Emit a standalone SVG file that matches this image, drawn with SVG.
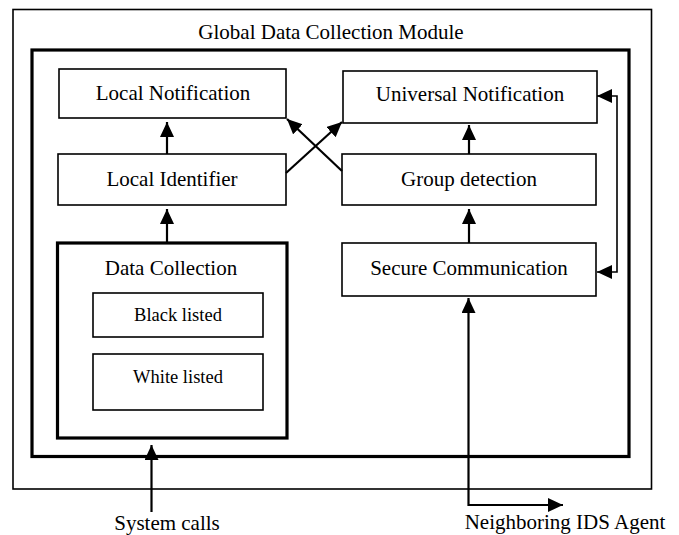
<svg xmlns="http://www.w3.org/2000/svg" width="679" height="535" viewBox="0 0 679 535">
<style>
  .box { fill: #fff; stroke: #000; stroke-width: 1.6; }
  .thick { fill: none; stroke: #000; stroke-width: 3.2; }
  .lbl { font-family: "Liberation Serif", "Times New Roman", serif; font-size: 21px; fill: #000; text-anchor: middle; }
  .sm { font-size: 18.5px; }
  .conn { fill: none; stroke: #000; stroke-width: 2.2; }
  .thin { fill: none; stroke: #000; stroke-width: 1.6; }
</style>
<defs>
  <marker id="ah" markerUnits="userSpaceOnUse" markerWidth="16" markerHeight="16" refX="15" refY="7" orient="auto-start-reverse" viewBox="0 0 16 16">
    <path d="M0,0 L15,7 L0,14 z" fill="#000"/>
  </marker>
</defs>
<rect width="679" height="535" fill="#fff"/>

<g id="global">
  <rect class="box" x="13" y="9.5" width="638.5" height="479.5"/>
  <text class="lbl" x="331" y="39">Global Data Collection Module</text>
</g>
<g id="inner">
  <rect class="thick" x="32" y="50" width="597" height="406.5"/>
</g>

<g id="local-notification">
  <rect class="box" x="59" y="69" width="227" height="49"/>
  <text class="lbl" x="173" y="100">Local Notification</text>
</g>
<g id="universal-notification">
  <rect class="box" x="343" y="71" width="254" height="52"/>
  <text class="lbl" x="470" y="101">Universal Notification</text>
</g>
<g id="local-identifier">
  <rect class="box" x="58" y="154" width="228" height="51"/>
  <text class="lbl" x="172" y="186">Local Identifier</text>
</g>
<g id="group-detection">
  <rect class="box" x="342" y="154" width="254" height="51"/>
  <text class="lbl" x="469" y="186">Group detection</text>
</g>
<g id="secure-communication">
  <rect class="box" x="342" y="243" width="254" height="53"/>
  <text class="lbl" x="469" y="275">Secure Communication</text>
</g>
<g id="data-collection">
  <rect class="thick" x="57.5" y="243" width="229.5" height="195"/>
  <text class="lbl" x="171" y="275">Data Collection</text>
</g>
<g id="black-listed">
  <rect class="box" x="93" y="293" width="170" height="44"/>
  <text class="lbl sm" x="178" y="321">Black listed</text>
</g>
<g id="white-listed">
  <rect class="box" x="93" y="354" width="170" height="56"/>
  <text class="lbl sm" x="178" y="383">White listed</text>
</g>
<g id="system-calls">
  <text class="lbl" x="167" y="530">System calls</text>
</g>
<g id="neighboring-ids-agent">
  <text class="lbl" x="565" y="529">Neighboring IDS Agent</text>
</g>

<g id="connectors">
  <path class="conn" d="M167,154 L167,122" marker-end="url(#ah)"/>
  <path class="conn" d="M167,243 L167,209" marker-end="url(#ah)"/>
  <path class="conn" d="M469,154 L469,125" marker-end="url(#ah)"/>
  <path class="conn" d="M469,243 L469,209" marker-end="url(#ah)"/>
  <path class="conn" d="M286,173 L342,122" marker-end="url(#ah)"/>
  <path class="conn" d="M342,171 L287,119" marker-end="url(#ah)"/>
  <path class="conn" d="M151.5,512 L151.5,445" marker-end="url(#ah)"/>
  <path class="conn" d="M468.5,298 L468.5,505 L563,505" marker-start="url(#ah)" marker-end="url(#ah)"/>
  <path class="thin" d="M617,184 L617,96 L597,96" marker-end="url(#ah)"/>
  <path class="thin" d="M617,184 L617,272 L597,272" marker-end="url(#ah)"/>
</g>
</svg>
